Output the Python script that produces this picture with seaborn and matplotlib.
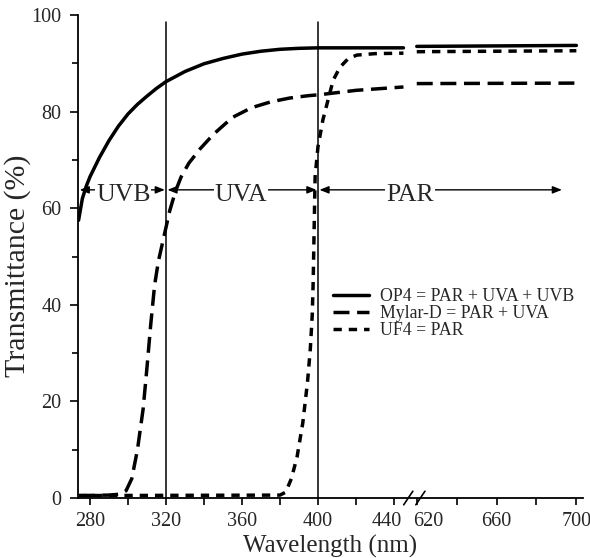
import numpy as np
import pandas as pd
import matplotlib.pyplot as plt
import matplotlib.transforms as mtrans
import seaborn as sns

# -------------------------------------------------
# Datos
# -------------------------------------------------
op4_nm = [274, 276, 278, 280, 285, 290, 295, 300, 305, 310, 315, 320, 330, 340,
          350, 360, 370, 380, 390, 400, 420, 445, 620, 700]
op4_tr = [57.5, 62.0, 64.5, 66.5, 70.5, 74.0, 77.0, 79.5, 81.5, 83.2, 84.8, 86.2,
          88.3, 89.9, 91.0, 91.9, 92.5, 92.9, 93.1, 93.2, 93.2, 93.2, 93.5, 93.7]

mylar_nm = [274, 290, 296, 299, 302, 305, 308, 310, 312, 314, 316, 318, 320, 322,
            325, 328, 332, 338, 345, 355, 365, 375, 385, 395, 401, 420, 445, 620, 700]
mylar_tr = [0.5, 0.6, 0.8, 1.5, 4.0, 10.0, 18.5, 27.0, 36.0, 44.0, 49.0, 52.5, 56.0,
            59.5, 63.5, 66.5, 69.3, 72.3, 75.3, 78.8, 80.8, 82.0, 82.8, 83.3, 83.5,
            84.4, 85.1, 85.8, 85.9]

uf4_nm = [274, 380, 383, 386, 389, 392, 394.5, 396, 397, 397.5, 398, 398.5, 400,
          402.6, 405.3, 408, 411.6, 416, 420.5, 430, 445, 620, 700]
uf4_tr = [0.5, 0.6, 1.2, 4.0, 8.5, 15.5, 24.0, 31.0, 38.0, 45.0, 56.0, 66.5, 72.7,
          78.3, 82.4, 86.5, 89.2, 91.0, 91.7, 92.0, 92.1, 92.4, 92.6]

series = ["OP4 = PAR + UVA + UVB", "Mylar-D = PAR + UVA", "UF4 = PAR"]

major_nm = [280, 320, 360, 400, 440, 620, 660, 700]
minor_nm = [300, 340, 380, 420, 640, 680]
band_edges = [320, 400]


# -------------------------------------------------
# Eje cortado: 274-450 nm y 620-700 nm
# -------------------------------------------------
def eje(nm):
    nm = np.asarray(nm, dtype=float)
    return np.where(nm <= 450, nm, 452 + (nm - 620) * 1.05)


def armar_df():
    partes = []
    for nombre, nm, tr in zip(series, [op4_nm, mylar_nm, uf4_nm],
                              [op4_tr, mylar_tr, uf4_tr]):
        nm = np.array(nm, dtype=float)
        partes.append(pd.DataFrame({
            "pos": eje(nm),
            "tr": tr,
            "filtro": nombre,
            "tramo": np.where(nm <= 450, "izq", "der"),
        }))
    return pd.concat(partes, ignore_index=True)


sns.set_style("ticks")
plt.rcParams["font.family"] = ["Liberation Serif", "DejaVu Serif"]

df = armar_df()

fig = plt.figure(figsize=(5.9, 5.58), dpi=100)
ax = fig.add_axes([78 / 590, 60 / 558, 505 / 590, 483 / 558])

sns.lineplot(data=df, x="pos", y="tr", hue="filtro", style="filtro",
             units="tramo", estimator=None, sort=False,
             palette=["black"] * 3,
             dashes={series[0]: "", series[1]: (4.6, 2.2), series[2]: (2.4, 2.0)},
             linewidth=2.5, ax=ax, zorder=3)

for x in band_edges:
    ax.axvline(x, ymax=0.985, color="black", lw=1.1, zorder=1.5)

# flechas de bandas
y_flecha = 63.8
estilo = "<|-|>,head_length=0.55,head_width=0.22"
for x0, x1 in [(274.6, 319.4), (320.8, 399.2), (400.8, 528.4)]:
    ax.annotate("", xy=(x0, y_flecha), xytext=(x1, y_flecha),
                arrowprops=dict(arrowstyle=estilo, color="black", lw=1.0,
                                shrinkA=0, shrinkB=0, mutation_scale=10),
                zorder=2)
for x, txt in [(297.5, "UVB"), (359.5, "UVA"), (448.5, "PAR")]:
    ax.text(x, 62.8, txt, ha="center", va="center", fontsize=18.5, zorder=2.5,
            bbox=dict(fc="white", ec="none", pad=0.8))

ax.set_xlim(273.7, 539.5)
ax.set_ylim(0, 100)
ax.set_xticks(eje(major_nm))
ax.set_xticklabels([str(v) for v in major_nm])
ax.set_xticks(eje(minor_nm), minor=True)
ax.set_yticks(range(0, 101, 20))
ax.set_yticks(range(10, 100, 20), minor=True)

ax.tick_params(axis="both", which="both", direction="out", width=1.2,
               color="black", labelsize=14.5)
ax.tick_params(axis="y", which="major", length=6, pad=6)
ax.tick_params(axis="y", which="minor", length=4)
ax.tick_params(axis="x", which="both", length=5, pad=5)
for sp in ["left", "bottom"]:
    ax.spines[sp].set_linewidth(1.3)
    ax.spines[sp].set_color("black")
sns.despine(ax=ax)

# separar etiquetas 440 y 620
etiquetas = ax.get_xticklabels()
for lab, dx in [(etiquetas[4], -5), (etiquetas[5], 8)]:
    lab.set_transform(lab.get_transform() +
                      mtrans.ScaledTranslation(dx / 72, 0, fig.dpi_scale_trans))

# marcas de corte
for xf in [0.654, 0.678]:
    ax.plot([xf - 0.009, xf + 0.009], [-0.014, 0.014], color="black", lw=1.2,
            transform=ax.transAxes, clip_on=False, zorder=4)

ax.set_xlabel("Wavelength (nm)", fontsize=18, labelpad=3)
ax.set_ylabel("Transmittance (%)", fontsize=21.5)
ax.yaxis.set_label_coords(-0.093, 0.48)

handles, labels = ax.get_legend_handles_labels()
ax.legend(handles, labels, loc="upper left", bbox_to_anchor=(0.505, 0.435),
          frameon=False, fontsize=12.8, handlelength=2.0, handletextpad=0.65,
          labelspacing=0.0, borderpad=0, borderaxespad=0)

fig.savefig("out.png", dpi=100)
